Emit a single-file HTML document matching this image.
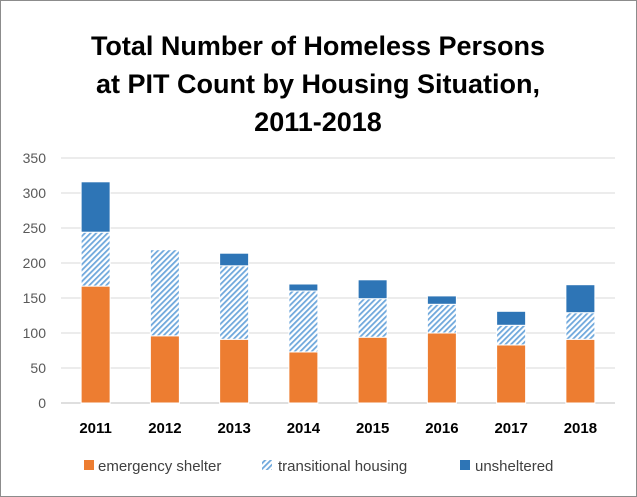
<!DOCTYPE html>
<html><head><meta charset="utf-8"><style>
body{margin:0;background:#fff;}
svg{display:block;font-family:"Liberation Sans",Calibri,sans-serif;}
</style></head><body>
<svg width="637" height="497" viewBox="0 0 637 497">
<defs>
<pattern id="hatch" width="4" height="4" patternUnits="userSpaceOnUse" patternTransform="rotate(-45)">
<rect width="4" height="4" fill="#fff"/>
<rect width="4" height="1.8" fill="#6FA8DC"/>
</pattern>
</defs>
<rect x="0.5" y="0.5" width="636" height="496" fill="#fff" stroke="#8c8c8c"/>
<text x="318" y="55" text-anchor="middle" font-size="27" font-weight="bold" fill="#000">Total Number of Homeless Persons</text>
<text x="318" y="93" text-anchor="middle" font-size="27" font-weight="bold" fill="#000">at PIT Count by Housing Situation,</text>
<text x="318" y="131" text-anchor="middle" font-size="27" font-weight="bold" fill="#000">2011-2018</text>
<g id="grid"></g>
<g id="bars"></g>
<g id="xlabels"></g>
<g>
<rect x="84" y="460" width="10" height="10" fill="#ED7D31"/>
<text x="98" y="471" font-size="15" fill="#404040">emergency shelter</text>
<rect x="262" y="460" width="10" height="10" fill="url(#hatch)"/>
<text x="278" y="471" font-size="15" fill="#404040">transitional housing</text>
<rect x="460" y="460" width="10" height="10" fill="#2E75B6"/>
<text x="475" y="471" font-size="15" fill="#404040">unsheltered</text>
</g>
</svg>
<script>
const years = ["2011","2012","2013","2014","2015","2016","2017","2018"];
const emergency = [167, 96, 91, 73, 94, 100, 83, 91];
const transitional = [77, 123, 105, 87, 55, 41, 28, 38];
const unsheltered = [72, 0, 18, 10, 27, 12, 20, 40];
const yTicks = [0, 50, 100, 150, 200, 250, 300, 350];

const NS = "http://www.w3.org/2000/svg";
const y0 = 403, pxPer = 0.7, x0 = 61, x1 = 615;
const step = (x1 - x0) / years.length, bw = 29;
function yS(v){ return y0 - v * pxPer; }
function xC(i){ return x0 + step * (i + 0.5); }
function mk(tag, attrs, parent){ const e = document.createElementNS(NS, tag); for (const k in attrs) e.setAttribute(k, attrs[k]); parent.appendChild(e); return e; }

const grid = document.getElementById("grid");
yTicks.forEach(t => {
  const l = mk("line", {x1: x0, x2: x1, y1: yS(t), y2: yS(t), stroke: t === 0 ? "#bfbfbf" : "#d9d9d9", "stroke-width": 1}, grid);
  
  
  const tx = mk("text", {x: 46, y: yS(t) + 5, "text-anchor": "end", "font-size": 14, fill: "#595959"}, grid);
  tx.textContent = t;
  
  
});

const bars = document.getElementById("bars");
const xl = document.getElementById("xlabels");
years.forEach((yr, i) => {
  const cx = xC(i);
  const segs = [[emergency[i], "#ED7D31", "bar-emergency"], [transitional[i], "url(#hatch)", "bar-transitional"], [unsheltered[i], "#2E75B6", "bar-unsheltered"]];
  let base = 0;
  segs.forEach(s => {
    if (s[0] > 0) {
      const r = mk("rect", {x: cx - bw / 2, y: yS(base + s[0]), width: bw, height: s[0] * pxPer, fill: s[1], stroke: "#fff", "stroke-width": 1}, bars);
      
      
    }
    base += s[0];
  });
  const t = mk("text", {x: cx, y: 433, "text-anchor": "middle", "font-size": 15, "font-weight": "bold", fill: "#000"}, xl);
  t.textContent = yr;
  
  
});
</script>
</body></html>
